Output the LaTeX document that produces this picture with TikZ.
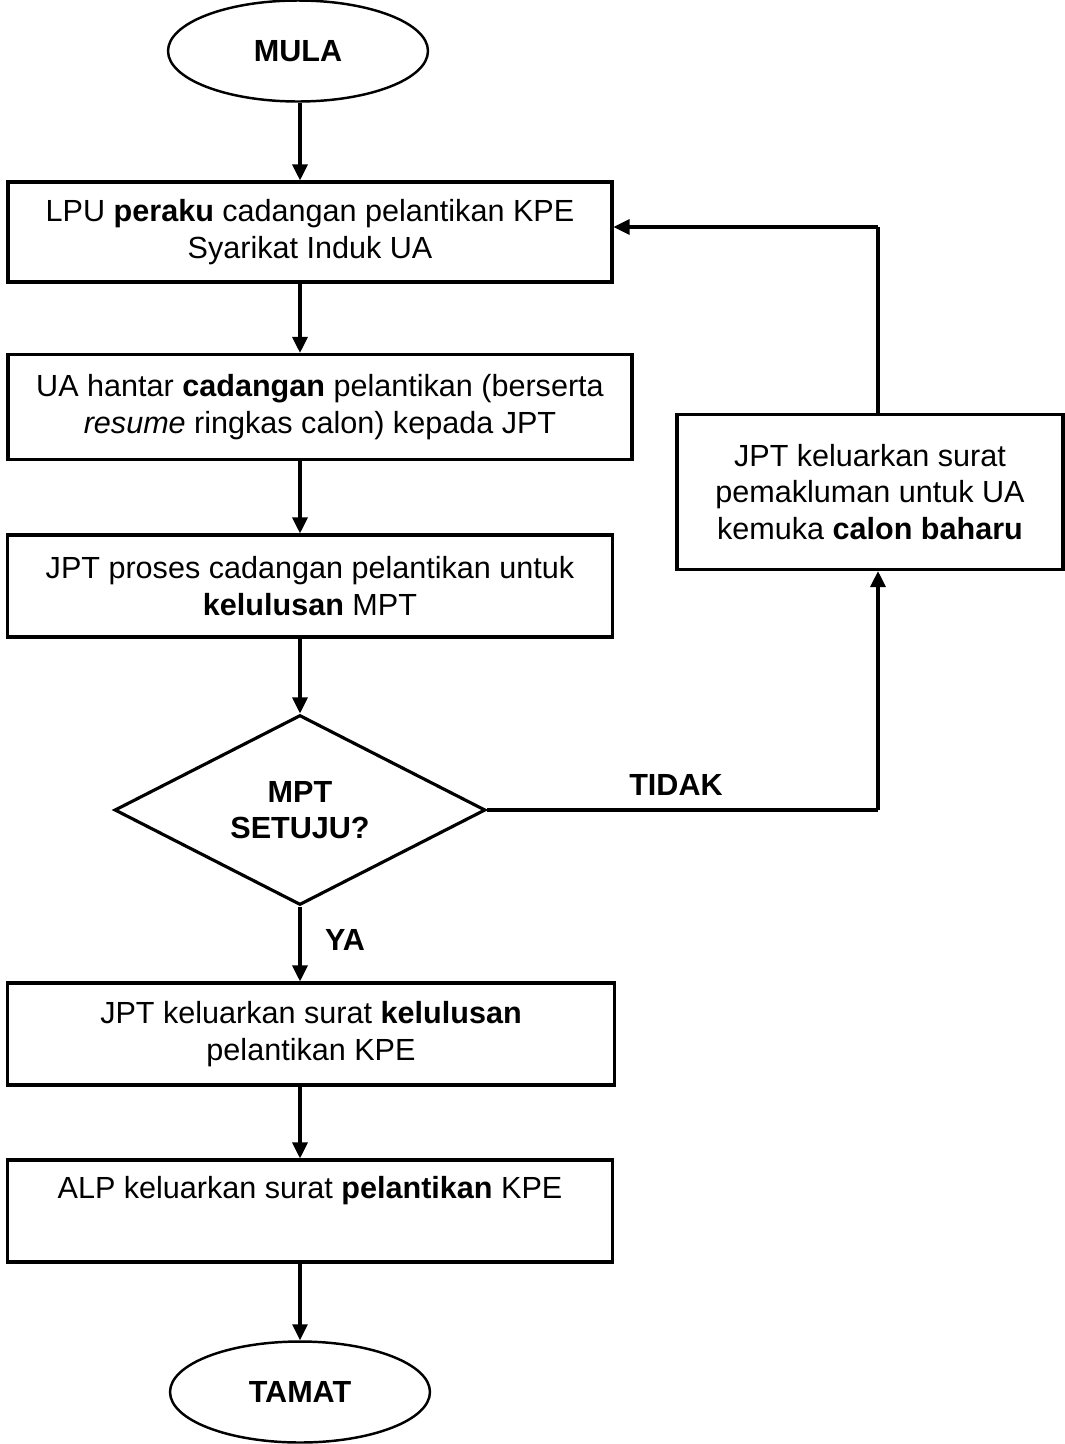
\documentclass[tikz,border=0pt]{standalone}
\usepackage{fontspec}
\setmainfont{Liberation Sans}
\usetikzlibrary{shapes.geometric,arrows.meta}

\tikzset{
  kotak/.style={draw, rectangle, line width=1.8pt, align=center, inner sep=0pt},
  bujur/.style={draw, ellipse, line width=1.4pt, inner sep=0pt, minimum width=5.2cm, minimum height=2.02cm, font=\bfseries},
  panah/.style={line width=1.8pt, -{Triangle[length=0.32cm,width=0.3cm]}},
  garis/.style={line width=1.8pt},
}

\begin{document}
\begin{tikzpicture}[x=0.02cm, y=-0.02cm]
  \fontsize{17.4}{20.6}\selectfont
  \useasboundingbox (0,0) rectangle (1065,1444);
  % nod utama
  \node[bujur] (mula) at (298,51) {MULA};
  \node[kotak, minimum width=12.08cm, minimum height=2.0cm] (lpu) at (310,232)
     {LPU \textbf{peraku} cadangan pelantikan KPE\\Syarikat Induk UA};
  \node[kotak, minimum width=12.48cm, minimum height=2.1cm] (hantar) at (320,407)
     {UA hantar \textbf{cadangan} pelantikan (berserta\\\textit{resume} ringkas calon) kepada JPT};
  \node[kotak, minimum width=12.1cm, minimum height=2.04cm] (proses) at (310,586)
     {JPT proses cadangan pelantikan untuk\\\textbf{kelulusan} MPT};
  \node[draw, diamond, line width=1.8pt, inner sep=0pt, aspect=1.95,
        minimum width=7.42cm, minimum height=3.8cm, align=center, font=\bfseries] (setuju) at (300,810)
     {MPT\\SETUJU?};
  \node[kotak, minimum width=7.72cm, minimum height=3.1cm] (baharu) at (870,492)
     {JPT keluarkan surat\\pemakluman untuk UA\\kemuka \textbf{calon baharu}};
  \node[kotak, minimum width=12.14cm, minimum height=2.04cm] (lulus) at (311,1034)
     {JPT keluarkan surat \textbf{kelulusan}\\pelantikan KPE};
  \node[kotak, minimum width=12.1cm, minimum height=2.04cm] (alp) at (310,1211)
     {ALP keluarkan surat \textbf{pelantikan} KPE\\\strut};
  \node[bujur] (tamat) at (300,1392) {TAMAT};

  % label
  \node[font=\bfseries] (tidak) at (676,785) {TIDAK};
  \node[font=\bfseries] (ya) at (345,940) {YA};

  % penyambung
  \coordinate (paksi) at (300,0);
  \coordinate (k1) at (878,810);
  \coordinate (k2) at (878,227);
  \draw[panah] (paksi |- mula.south) -- (paksi |- lpu.north);
  \draw[panah] (paksi |- lpu.south) -- (paksi |- hantar.north);
  \draw[panah] (paksi |- hantar.south) -- (paksi |- proses.north);
  \draw[panah] (paksi |- proses.south) -- (setuju.north);
  \draw[panah] (setuju.south) -- (paksi |- lulus.north);
  \draw[panah] (paksi |- lulus.south) -- (paksi |- alp.north);
  \draw[panah] (paksi |- alp.south) -- (tamat.north);
  \draw[garis] (setuju.east) -- (k1);
  \draw[panah] (k1) -- (k1 |- baharu.south);
  \draw[garis] (k1 |- baharu.north) -- (k2);
  \draw[panah] (k2) -- (k2 -| lpu.east);
\end{tikzpicture}
\end{document}
